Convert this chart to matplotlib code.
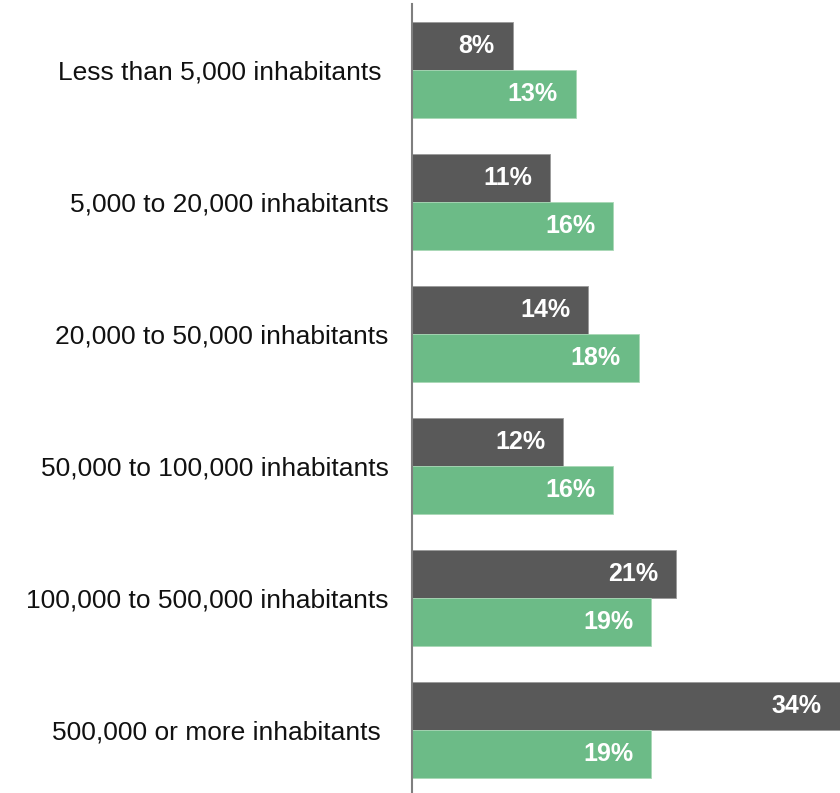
import matplotlib
matplotlib.use("Agg")
import matplotlib.pyplot as plt
import numpy as np

plt.rcParams['font.family'] = ['Liberation Sans', 'DejaVu Sans']

categories = [
    "Less than 5,000 inhabitants ",
    "5,000 to 20,000 inhabitants",
    "20,000 to 50,000 inhabitants",
    "50,000 to 100,000 inhabitants",
    "100,000 to 500,000 inhabitants",
    "500,000 or more inhabitants ",
]
series_dark = [8, 11, 14, 12, 21, 34]
series_green = [13, 16, 18, 16, 19, 19]

dark_color = "#595959"
green_color = "#6cbb87"

W, H = 840, 793
fig = plt.figure(figsize=(W / 100, H / 100), dpi=100)
ax = fig.add_axes([412 / W, -3 / H, 428 / W, 792 / H])

y = np.arange(len(categories))
bh = 0.367
ax.barh(y - bh / 2, series_dark, height=bh, color=dark_color,
        edgecolor="#9a9a9a", linewidth=0.6)
ax.barh(y + bh / 2, series_green, height=bh, color=green_color,
        edgecolor="#a8d8b6", linewidth=0.6)

for yi, v in zip(y, series_dark):
    ax.annotate(f"{v}%", xy=(v, yi - bh / 2), xytext=(-13, 0),
                textcoords="offset points", ha="right", va="center",
                color="white", fontsize=18, fontweight="bold")
for yi, v in zip(y, series_green):
    ax.annotate(f"{v}%", xy=(v, yi + bh / 2), xytext=(-13, 0),
                textcoords="offset points", ha="right", va="center",
                color="white", fontsize=18, fontweight="bold")

ax.set_xlim(0, 34)
ax.set_ylim(5.5, -0.5)
ax.set_yticks(y)
ax.set_yticklabels(categories, fontsize=19, color="#111111")
ax.tick_params(axis="y", length=0, pad=17)
ax.set_xticks([])
for side in ("top", "right", "bottom"):
    ax.spines[side].set_visible(False)
ax.spines["left"].set_color("#7f7f7f")
ax.spines["left"].set_linewidth(1.5)

fig.savefig("out.png", dpi=100)
